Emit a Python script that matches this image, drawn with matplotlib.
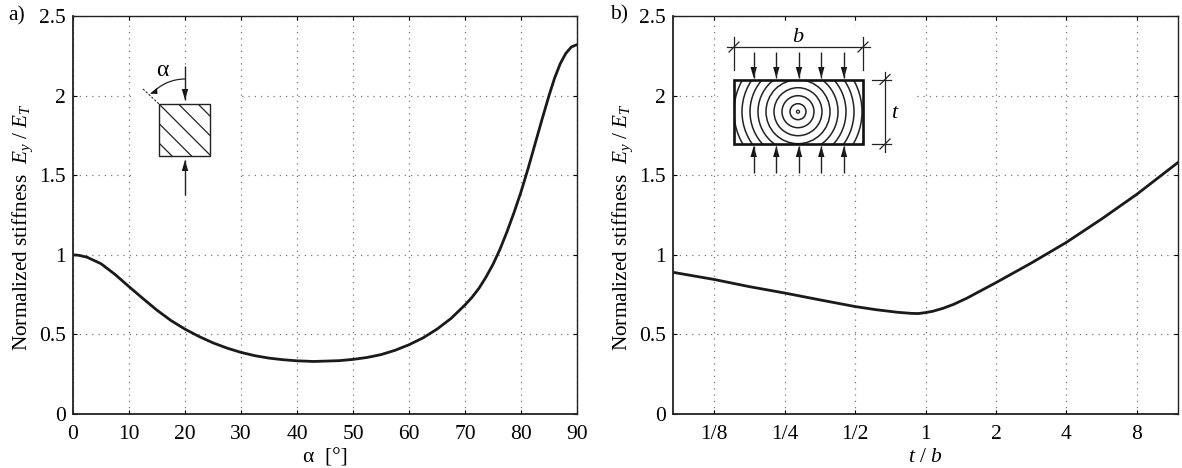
#python3

import numpy as np
import matplotlib.pyplot as plt
from matplotlib.patches import Rectangle, Circle, Arc

plt.rcParams['font.family'] = ['Liberation Serif', 'DejaVu Serif']
plt.rcParams['mathtext.fontset'] = 'custom'
plt.rcParams['mathtext.rm'] = 'Liberation Serif'
plt.rcParams['mathtext.it'] = 'Liberation Serif:italic'
plt.rcParams['font.size'] = 15

#values
alpha_deg = [0, 1, 2.5, 5, 7.5, 10, 12.5, 15, 17.5, 20, 22.5, 25, 27.5, 30, 32.5, 35, 37.5, 40, 43,
             47.5, 50, 52.5, 55, 57.5, 60, 62.5, 65, 67.5, 70, 71.25, 72.5, 73.75, 75, 76.25, 77.5, 78.75, 80,
             81.25, 82.5, 83.75, 85, 86, 87, 88, 89, 90]
stiff_a = [1.0, 0.997, 0.985, 0.944, 0.877, 0.80, 0.725, 0.652, 0.587, 0.533, 0.487, 0.447, 0.414, 0.387, 0.366, 0.351, 0.341,
           0.334, 0.33, 0.335, 0.343, 0.355, 0.373, 0.40, 0.435, 0.478, 0.533, 0.60, 0.685, 0.733, 0.79, 0.86, 0.94, 1.035,
           1.145, 1.265, 1.395, 1.54, 1.695, 1.85, 2.0, 2.11, 2.2, 2.265, 2.306, 2.32]

tb_ratio = [1/12, 1/8, 1/5.66, 1/4, 1/2.83, 1/2, 0.616, 0.758, 0.871, 0.933, 1, 1.072, 1.189, 1.32, 1.5, 2, 2.83, 4, 5.66, 8, 12]
stiff_b = [0.89, 0.845, 0.80, 0.76, 0.717, 0.675, 0.655, 0.639, 0.632, 0.631, 0.637, 0.645, 0.664, 0.689, 0.727, 0.825, 0.948, 1.078, 1.225, 1.38, 1.58]

alpha_ticks = [0, 10, 20, 30, 40, 50, 60, 70, 80, 90]
ratio_ticks = [1/8, 1/4, 1/2, 1, 2, 4, 8]
ratio_labels = ['1/8', '1/4', '1/2', '1', '2', '4', '8']
y_ticks = [0, 0.5, 1, 1.5, 2, 2.5]
y_labels = ['0', '0.5', '1', '1.5', '2', '2.5']

W, H = 1182, 468
ylab = r'Normalized stiffness  $E_y$ / $E_T$'

fig = plt.figure(figsize=(W/100, H/100), dpi=100)

def make_axes(x0, x1, y0, y1):
    ax = fig.add_axes([x0/W, 1-y1/H, (x1-x0)/W, (y1-y0)/H])
    ax.set_ylim(0, 2.5)
    ax.set_yticks(y_ticks)
    ax.set_yticklabels(y_labels)
    ax.grid(True, color='#777777', linestyle=(0, (1, 4)), linewidth=0.9)
    ax.tick_params(which='both', direction='in', length=3, width=0.8, top=True, right=True, pad=5, labelsize=15.5)
    ax.tick_params(axis='x', pad=8)
    for s in ax.spines.values():
        s.set_linewidth(1.0)
        s.set_color('#222222')
    for s in ['left', 'bottom']:
        ax.spines[s].set_linewidth(1.3)
    return ax

# left panel
ax1 = make_axes(73, 577, 16, 414)
ax1.plot(alpha_deg, stiff_a, color='#1a1a1a', lw=2.0)
ax1.set_xlim(0, 90)
ax1.set_xticks(alpha_ticks)
ax1.set_xlabel('α  [°]', fontsize=15.5, labelpad=3)
ax1.set_ylabel(ylab, fontsize=15.3, labelpad=3, y=0.47)

# right panel
ax2 = make_axes(673, 1178, 16, 414)
ax2.set_xscale('log', base=2)
ax2.plot(tb_ratio, stiff_b, color='#1a1a1a', lw=2.0)
ax2.set_xlim(1/12, 12)
ax2.set_xticks(ratio_ticks)
ax2.set_xticklabels(ratio_labels)
ax2.minorticks_off()
ax2.set_xlabel('$t$ / $b$', fontsize=15.5, labelpad=3)
ax2.set_ylabel(ylab, fontsize=15.3, labelpad=3, y=0.47)

# overlay in pixel coordinates for the two sketches
ov = fig.add_axes([0, 0, 1, 1])
ov.set_xlim(0, W)
ov.set_ylim(H, 0)
ov.axis('off')
ov.patch.set_alpha(0)

def arrow(x, y0, y1, lw=1.0, head=11):
    ov.plot([x, x], [y0, y1], color='#222222', lw=lw, solid_capstyle='butt')
    d = np.sign(y1-y0)
    ov.fill([x-3.2, x+3.2, x], [y1-d*head, y1-d*head, y1], color='#111111', lw=0)

def line(xs, ys, lw=0.9, **kw):
    ov.plot(xs, ys, color='#222222', lw=lw, **kw)

# sketch a
ov.add_patch(Rectangle((135, 65), 105, 130, fc='white', ec='none', zorder=0))
sq = Rectangle((159, 104), 51, 52, fc='white', ec='#222222', lw=1.0, zorder=1)
ov.add_patch(sq)
for off in [-39, -19.5, 0, 19.5, 39]:
    l, = ov.plot([159, 211], [104+off, 156+off], color='#222222', lw=0.9, zorder=2)
    l.set_clip_path(sq)
arrow(185, 66, 100)
arrow(185, 195, 160)
line([143, 159], [89, 104], lw=0.8, linestyle=(0, (2, 1.5)))
ov.add_patch(Arc((185, 124), 90, 90, theta1=222, theta2=270, color='#222222', lw=0.9))
ov.fill([150, 157, 157.5], [93.5, 88, 94], color='#111111', lw=0)
ov.text(162, 71, 'α', fontsize=17, ha='center', va='center')

# sketch b
ov.add_patch(Rectangle((718, 26), 199, 147, fc='white', ec='none', zorder=0))
box = Rectangle((734, 79.5), 129, 64.5, fc='none', ec='#111111', lw=1.9, zorder=3)
ov.add_patch(box)
ov.add_patch(Circle((798, 111.7), 1.5, fc='none', ec='#222222', lw=0.9))
for r in range(8, 80, 8):
    c = Circle((798, 111.7), r, fc='none', ec='#222222', lw=1.1)
    ov.add_patch(c)
    c.set_clip_path(box)
for x in [753.7, 776.3, 799, 821.3, 844]:
    arrow(x, 52, 78)
    arrow(x, 173, 146)
# b dimension
line([727, 870], [47, 47])
line([734, 734], [37, 70])
line([862.7, 862.7], [37, 70])
line([729, 739], [52, 42])
line([858, 868], [52, 42])
ov.text(798, 37, '$b$', fontsize=16, ha='center', va='center')
# t dimension
line([885, 885], [72, 152])
line([872, 891], [79.5, 79.5])
line([872, 891], [144, 144])
line([880, 890], [84.5, 74.5])
line([880, 890], [149, 139])
ov.text(895, 113, '$t$', fontsize=16, ha='center', va='center')

ov.text(8, 16, 'a)', fontsize=15.5, ha='left', va='center')
ov.text(610, 15, 'b)', fontsize=15.5, ha='left', va='center')

plt.savefig('out.png', dpi=100)
